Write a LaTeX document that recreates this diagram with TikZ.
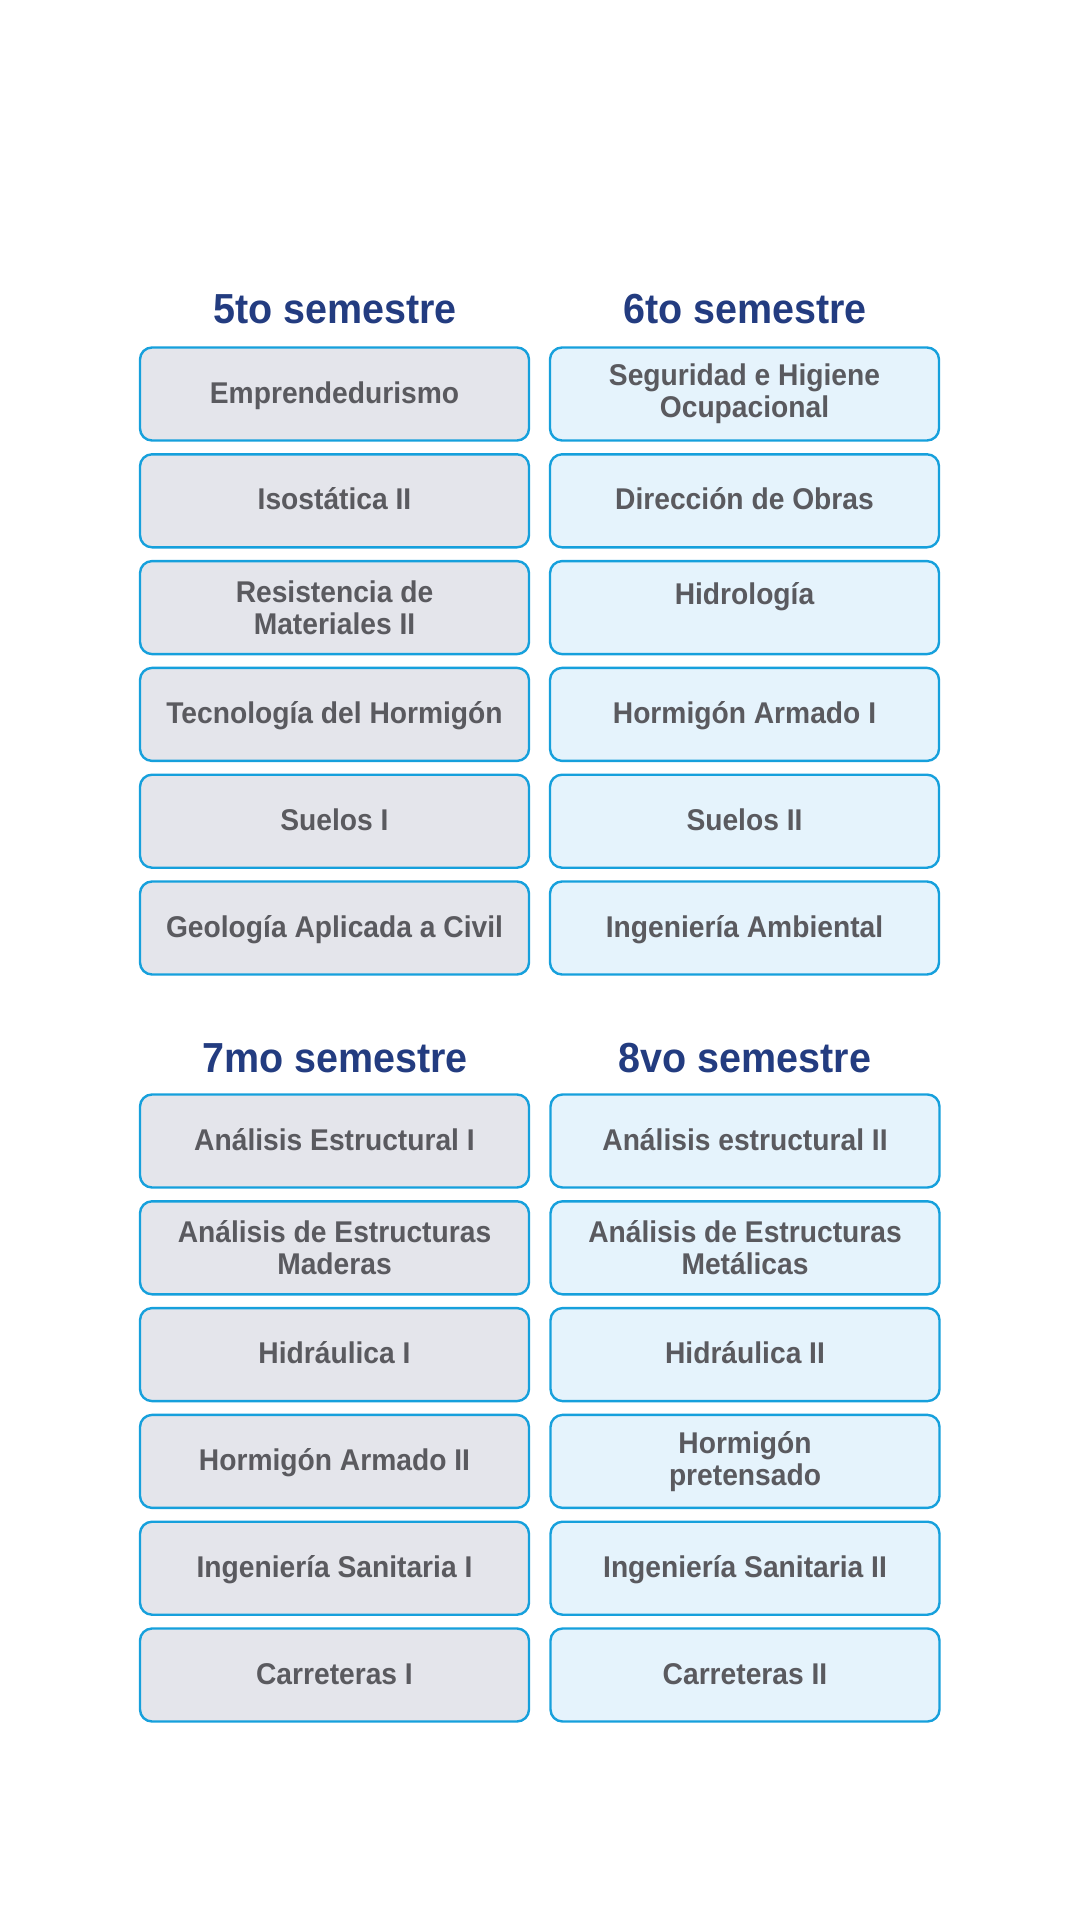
\documentclass[tikz,border=0pt]{standalone}
\usepackage{fontspec}
\setmainfont[FakeStretch=0.94]{Liberation Sans}
\usepackage{tikz}

\definecolor{titleblue}{RGB}{35,60,128}
\definecolor{textgray}{RGB}{90,90,95}
\definecolor{edgeblue}{RGB}{22,160,220}
\definecolor{graybox}{RGB}{228,229,235}
\definecolor{bluebox}{RGB}{229,243,252}

\tikzset{
  subj/.style={rectangle, rounded corners=6pt, draw=edgeblue, line width=1.2pt,
    minimum width=194.5pt, minimum height=46.5pt, inner sep=2pt, align=center,
    text=textgray, font=\fontsize{15}{16}\selectfont\bfseries},
  oddsem/.style={subj, fill=graybox},
  evensem/.style={subj, fill=bluebox},
  oneline/.style={text height=11pt, text depth=2pt},
  semtitle/.style={text=titleblue, font=\fontsize{21}{24}\selectfont\bfseries, inner sep=0pt}
}

\begin{document}
\begin{tikzpicture}[x=0.5pt, y=-0.5pt]
  \useasboundingbox (0,0) rectangle (1080,1920);
  % semestres 5 y 6
  \node (t5) [semtitle] at (335,309) {5to semestre};
  \node (t6) [semtitle] at (745,309) {6to semestre};
  \node (s5a) [oddsem, oneline] at (334.5,394) {Emprendedurismo};
  \node (s5b) [oddsem, oneline] at (334.5,500.8) {Isostática II};
  \node (s5c) [oddsem] at (334.5,607.6) {Resistencia de\\Materiales II};
  \node (s5d) [oddsem, oneline] at (334.5,714.4) {Tecnología del Hormigón};
  \node (s5e) [oddsem, oneline] at (334.5,821.2) {Suelos I};
  \node (s5f) [oddsem, oneline] at (334.5,928) {Geología Aplicada a Civil};
  \node (s6a) [evensem] at (744.5,394) {Seguridad e Higiene\\Ocupacional};
  \node (s6b) [evensem, oneline] at (744.5,500.8) {Dirección de Obras};
  \node (s6c) [evensem, oneline, text depth=14pt] at (744.5,607.6) {Hidrología};
  \node (s6d) [evensem, oneline] at (744.5,714.4) {Hormigón Armado I};
  \node (s6e) [evensem, oneline] at (744.5,821.2) {Suelos II};
  \node (s6f) [evensem, oneline] at (744.5,928) {Ingeniería Ambiental};
  % semestres 7 y 8
  \node (t7) [semtitle] at (335,1058) {7mo semestre};
  \node (t8) [semtitle] at (745,1058) {8vo semestre};
  \node (s7a) [oddsem, oneline] at (334.5,1141) {Análisis Estructural I};
  \node (s7b) [oddsem] at (334.5,1247.8) {Análisis de Estructuras\\Maderas};
  \node (s7c) [oddsem, oneline] at (334.5,1354.6) {Hidráulica I};
  \node (s7d) [oddsem, oneline] at (334.5,1461.4) {Hormigón Armado II};
  \node (s7e) [oddsem, oneline] at (334.5,1568.2) {Ingeniería Sanitaria I};
  \node (s7f) [oddsem, oneline] at (334.5,1675) {Carreteras I};
  \node (s8a) [evensem, oneline] at (745,1141) {Análisis estructural II};
  \node (s8b) [evensem] at (745,1247.8) {Análisis de Estructuras\\Metálicas};
  \node (s8c) [evensem, oneline] at (745,1354.6) {Hidráulica II};
  \node (s8d) [evensem] at (745,1461.4) {Hormigón\\pretensado};
  \node (s8e) [evensem, oneline] at (745,1568.2) {Ingeniería Sanitaria II};
  \node (s8f) [evensem, oneline] at (745,1675) {Carreteras II};
\end{tikzpicture}
\end{document}
